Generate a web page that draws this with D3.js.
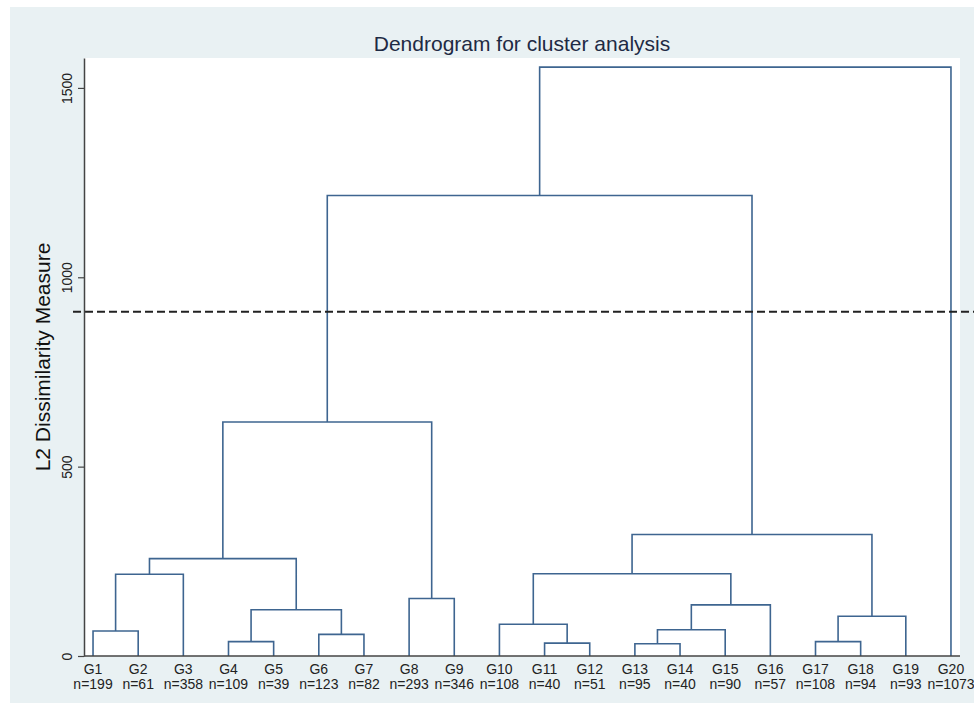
<!DOCTYPE html>
<html>
<head>
<meta charset="utf-8">
<script src="https://cdn.jsdelivr.net/npm/d3@7"></script>
<style>
  body { margin: 0; background: #ffffff; }
  svg { display: block; font-family: "Liberation Sans", Arial, sans-serif; }
</style>
</head>
<body>
<svg></svg>
<script>
const groups = ['G1', 'G2', 'G3', 'G4', 'G5', 'G6', 'G7', 'G8', 'G9', 'G10',
    'G11', 'G12', 'G13', 'G14', 'G15', 'G16', 'G17', 'G18', 'G19', 'G20'];
const groupSizes = [199, 61, 358, 109, 39, 123, 82, 293, 346, 108,
    40, 51, 95, 40, 90, 57, 108, 94, 93, 1073];

// linkage: [left node, right node, height]; nodes 0-19 are groups, 20+ are earlier merges
const linkage = [
    [0, 1, 66],
    [20, 2, 216],
    [3, 4, 38],
    [5, 6, 57],
    [22, 23, 122],
    [21, 24, 257],
    [7, 8, 152],
    [25, 26, 618],
    [10, 11, 34],
    [9, 28, 84],
    [12, 13, 32.5],
    [30, 14, 69.5],
    [31, 15, 135],
    [29, 32, 217],
    [16, 17, 38],
    [34, 18, 105],
    [33, 35, 321],
    [27, 36, 1216],
    [37, 19, 1555]
];

const yTicks = [0, 500, 1000, 1500];
const cutHeight = 909;

const svgWidth = 974;
const svgHeight = 713;
const plot = { left: 84, right: 960, top: 58, bottom: 656 };

const svg = d3.select('svg')
    .attr('width', svgWidth)
    .attr('height', svgHeight);

// graph region and plot region
svg.append('rect')
    .attr('x', 10)
    .attr('y', 7)
    .attr('width', svgWidth - 10)
    .attr('height', 696)
    .attr('fill', '#e9f1f3');

svg.append('rect')
    .attr('x', plot.left)
    .attr('y', plot.top)
    .attr('width', plot.right - plot.left)
    .attr('height', plot.bottom - plot.top)
    .attr('fill', '#ffffff');

const xScale = d3.scalePoint()
    .domain(groups)
    .range([plot.left, plot.right])
    .padding(0.2);

const yScale = d3.scaleLinear()
    .domain([0, 1579])
    .range([plot.bottom, plot.top]);

// node positions
const nodeX = groups.map(g => xScale(g));
const nodeH = groups.map(() => 0);
linkage.forEach(([a, b, h]) => {
    nodeX.push((nodeX[a] + nodeX[b]) / 2);
    nodeH.push(h);
});

svg.append('g')
    .selectAll('path')
    .data(linkage)
    .enter()
    .append('path')
    .attr('d', ([a, b, h]) => {
        const p = d3.path();
        p.moveTo(nodeX[a], yScale(nodeH[a]));
        p.lineTo(nodeX[a], yScale(h));
        p.lineTo(nodeX[b], yScale(h));
        p.lineTo(nodeX[b], yScale(nodeH[b]));
        return p.toString();
    })
    .attr('fill', 'none')
    .attr('stroke', '#3e6590')
    .attr('stroke-width', 1.6);

// cut line
svg.append('line')
    .attr('x1', 73)
    .attr('x2', svgWidth)
    .attr('y1', yScale(cutHeight))
    .attr('y2', yScale(cutHeight))
    .attr('stroke', '#222222')
    .attr('stroke-width', 2)
    .attr('stroke-dasharray', '8,4');

// y axis
const yAxis = svg.append('g')
    .attr('transform', `translate(${plot.left}, 0)`)
    .call(d3.axisLeft(yScale)
        .tickValues(yTicks)
        .tickFormat(d3.format('d'))
        .tickSize(6)
        .tickSizeOuter(0));

yAxis.select('.domain')
    .attr('stroke', '#444444')
    .attr('stroke-width', 1.5);
yAxis.selectAll('.tick line')
    .attr('stroke', '#444444')
    .attr('stroke-width', 1.2);
yAxis.selectAll('.tick text')
    .attr('x', 0)
    .attr('dy', 0)
    .attr('transform', 'translate(-12, 0) rotate(-90)')
    .attr('text-anchor', 'middle')
    .attr('font-size', '14px')
    .attr('fill', '#222222')
    .style('font-family', '"Liberation Sans", Arial, sans-serif');

// x baseline
svg.append('line')
    .attr('x1', plot.left)
    .attr('x2', plot.right)
    .attr('y1', yScale(0))
    .attr('y2', yScale(0))
    .attr('stroke', '#444444')
    .attr('stroke-width', 1.5);

// leaf labels
const labels = svg.append('g')
    .selectAll('text')
    .data(groups)
    .enter()
    .append('text')
    .attr('x', d => xScale(d))
    .attr('y', 674)
    .attr('text-anchor', 'middle')
    .attr('font-size', '14px')
    .attr('fill', '#222222');

labels.append('tspan')
    .attr('x', d => xScale(d))
    .text(d => d);

labels.append('tspan')
    .attr('x', d => xScale(d))
    .attr('dy', 14.5)
    .text((d, i) => 'n=' + groupSizes[i]);

// title
svg.append('text')
    .attr('x', (plot.left + plot.right) / 2)
    .attr('y', 51)
    .attr('text-anchor', 'middle')
    .attr('font-size', '21px')
    .attr('fill', '#1e2a44')
    .text('Dendrogram for cluster analysis');

// y axis title
svg.append('text')
    .attr('transform', `translate(50, ${(plot.top + plot.bottom) / 2}) rotate(-90)`)
    .attr('text-anchor', 'middle')
    .attr('font-size', '21px')
    .attr('fill', '#111111')
    .text('L2 Dissimilarity Measure');
</script>
</body>
</html>
